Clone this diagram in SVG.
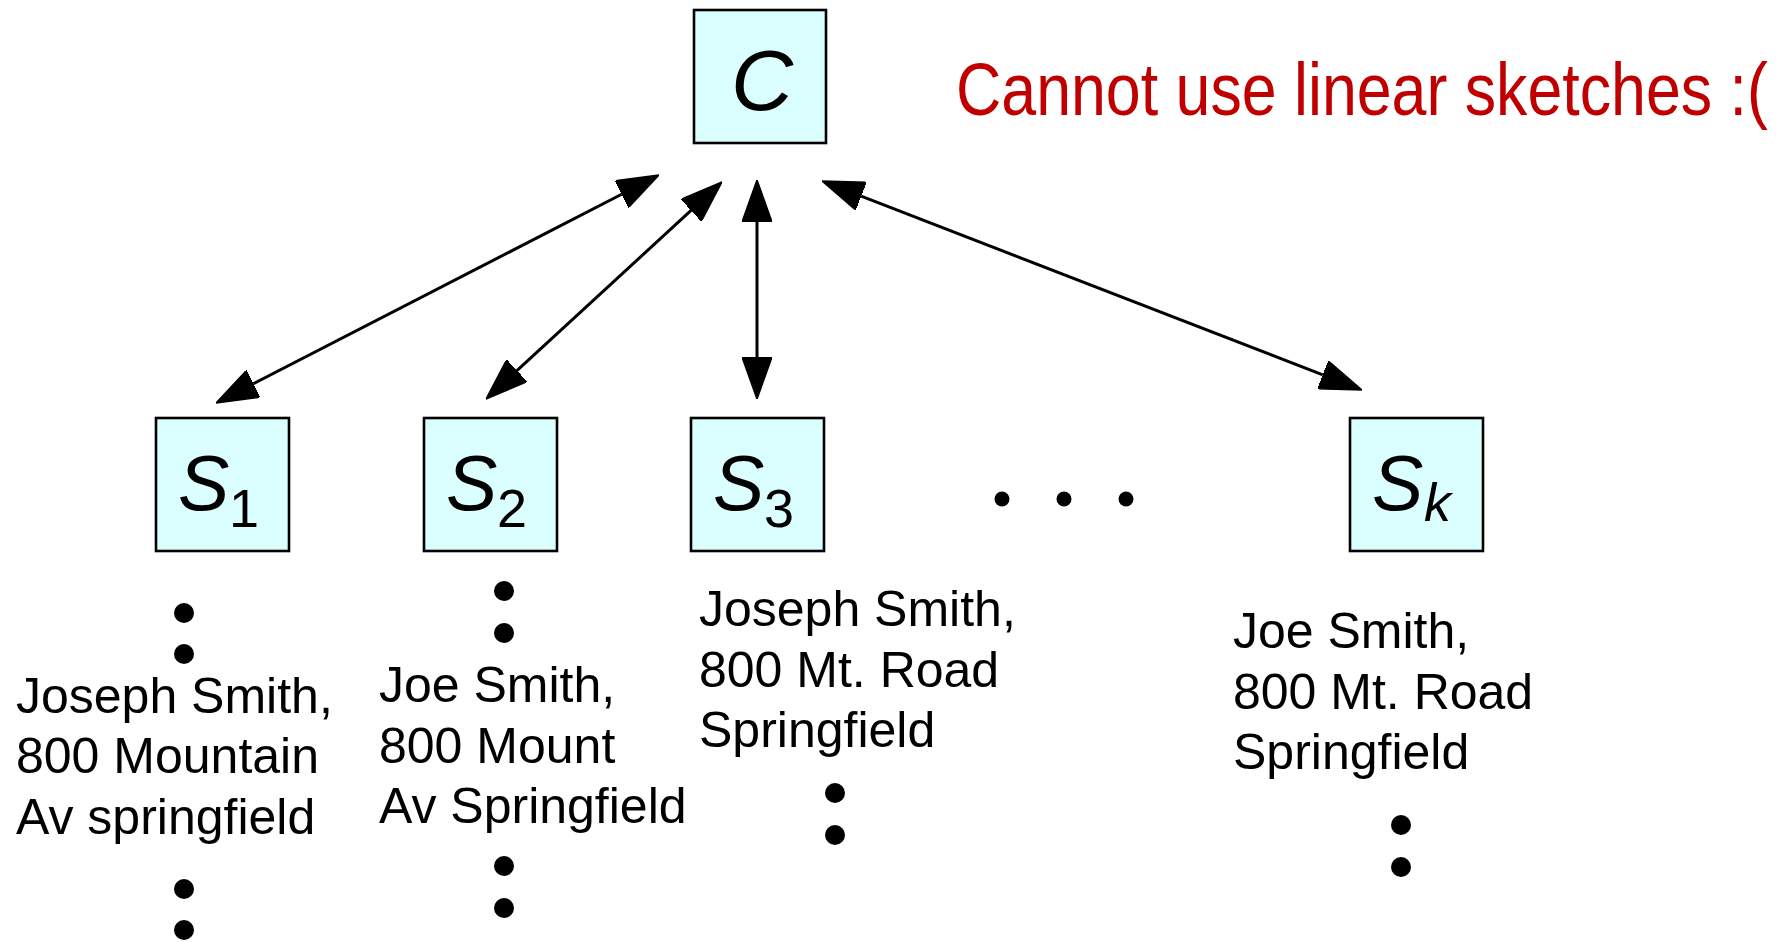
<svg xmlns="http://www.w3.org/2000/svg" width="1791" height="942" viewBox="0 0 1791 942">
  <style>
    .box { fill: #dbffff; stroke: #000; stroke-width: 2.6; }
    .sym { font-family: "Liberation Sans", "DejaVu Sans", sans-serif; font-style: italic; fill: #000; }
    .sub { font-family: "Liberation Sans", "DejaVu Sans", sans-serif; fill: #000; font-size: 54px; }
    .lbl { font-family: "Liberation Sans", "DejaVu Sans", sans-serif; font-size: 50px; fill: #000; }
    .note { font-family: "Liberation Sans", "DejaVu Sans", sans-serif; font-size: 75px; fill: #c00000; }
    .edge { stroke: #000; stroke-width: 3; fill: none; marker-start: url(#tip); marker-end: url(#tip); }
    .dot { fill: #000; }
  </style>
  <defs>
    <marker id="tip" markerUnits="userSpaceOnUse" viewBox="0 0 42 30" markerWidth="42" markerHeight="30" refX="0" refY="15" orient="auto-start-reverse">
      <path d="M0,0 L42,15 L0,30 z" fill="#000" stroke="#000" stroke-width="1.5" stroke-linejoin="round"/>
    </marker>
  </defs>
  <rect width="1791" height="942" fill="#fff"/>

  <!-- coordinator -->
  <g id="node-C">
    <rect class="box" x="694" y="10" width="132" height="133"/>
    <text class="sym" x="762" y="110" font-size="86" text-anchor="middle">C</text>
  </g>

  <!-- remark (horizontally condensed) -->
  <g id="note" transform="translate(956,115) scale(0.836,1)">
    <text class="note" x="0" y="0">Cannot use linear sketches :(</text>
  </g>

  <!-- connectors (double-headed) -->
  <g id="connectors">
    <line class="edge" x1="621.65" y1="194.22" x2="253.35" y2="383.78"/>
    <line class="edge" x1="691.08" y1="210.43" x2="516.92" y2="370.57"/>
    <line class="edge" x1="757" y1="222" x2="757" y2="357"/>
    <line class="edge" x1="861.17" y1="196.16" x2="1322.83" y2="374.84"/>
  </g>

  <!-- sites -->
  <g id="node-S1">
    <rect class="box" x="156" y="418" width="133" height="133"/>
    <text class="sym" x="178" y="510" font-size="77">S</text>
    <text class="sub" x="229" y="527">1</text>
  </g>
  <g id="node-S2">
    <rect class="box" x="424" y="418" width="133" height="133"/>
    <text class="sym" x="446" y="510" font-size="77">S</text>
    <text class="sub" x="497" y="527">2</text>
  </g>
  <g id="node-S3">
    <rect class="box" x="691" y="418" width="133" height="133"/>
    <text class="sym" x="713" y="510" font-size="77">S</text>
    <text class="sub" x="764" y="527">3</text>
  </g>
  <g id="node-Sk">
    <rect class="box" x="1350" y="418" width="133" height="133"/>
    <text class="sym" x="1372" y="510" font-size="77">S</text>
    <text class="sym" x="1424" y="521" font-size="54">k</text>
  </g>

  <!-- horizontal ellipsis between sites -->
  <g id="ellipsis">
    <circle class="dot" cx="1002" cy="499" r="7.5"/>
    <circle class="dot" cx="1064" cy="499" r="7.5"/>
    <circle class="dot" cx="1126" cy="499" r="7.5"/>
  </g>

  <!-- record lists under each site -->
  <g id="records-S1">
    <circle class="dot" cx="184" cy="613" r="10"/>
    <circle class="dot" cx="184" cy="654" r="10"/>
    <text class="lbl" x="16" y="713">Joseph Smith,</text>
    <text class="lbl" x="16" y="773">800 Mountain</text>
    <text class="lbl" x="16" y="834">Av springfield</text>
    <circle class="dot" cx="184" cy="889" r="10"/>
    <circle class="dot" cx="184" cy="930" r="10"/>
  </g>
  <g id="records-S2">
    <circle class="dot" cx="504" cy="591" r="10"/>
    <circle class="dot" cx="504" cy="633" r="10"/>
    <text class="lbl" x="379" y="702">Joe Smith,</text>
    <text class="lbl" x="379" y="763">800 Mount</text>
    <text class="lbl" x="379" y="823">Av Springfield</text>
    <circle class="dot" cx="504" cy="866" r="10"/>
    <circle class="dot" cx="504" cy="908" r="10"/>
  </g>
  <g id="records-S3">
    <text class="lbl" x="699" y="626">Joseph Smith,</text>
    <text class="lbl" x="699" y="687">800 Mt. Road</text>
    <text class="lbl" x="699" y="747">Springfield</text>
    <circle class="dot" cx="835" cy="793" r="10"/>
    <circle class="dot" cx="835" cy="835" r="10"/>
  </g>
  <g id="records-Sk">
    <text class="lbl" x="1233" y="648">Joe Smith,</text>
    <text class="lbl" x="1233" y="709">800 Mt. Road</text>
    <text class="lbl" x="1233" y="769">Springfield</text>
    <circle class="dot" cx="1401" cy="825" r="10"/>
    <circle class="dot" cx="1401" cy="867" r="10"/>
  </g>
</svg>
